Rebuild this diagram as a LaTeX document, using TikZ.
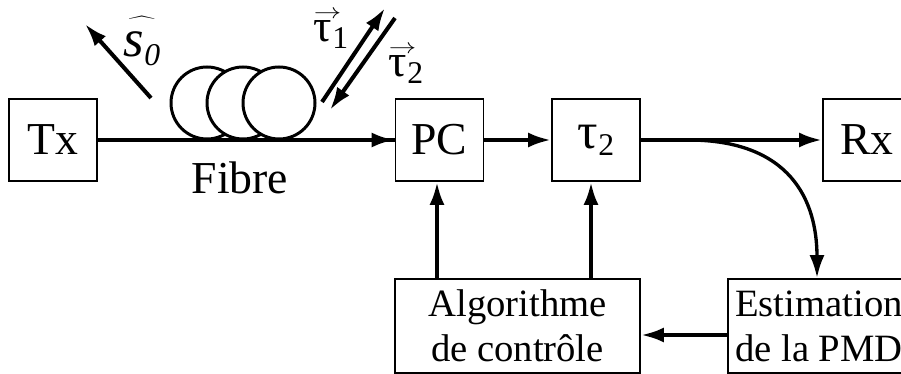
\documentclass[tikz,border=0pt]{standalone}
\usepackage{graphicx}
\usepackage{fontspec}
\setmainfont{Liberation Serif}
\usetikzlibrary{arrows.meta}

\newcommand{\bigtxt}{\fontsize{26}{30}\selectfont}
\newcommand{\smalltxt}{\fontsize{22}{25.5}\selectfont}
\newcommand{\lowidx}[1]{\raisebox{-0.35ex}{\fontsize{18}{18}\selectfont #1}}
\newcommand{\bigtau}{{\fontsize{29}{29}\selectfont τ}}
\newcommand{\vectau}{\makebox[0pt][l]{\raisebox{13pt}{\scalebox{1.3}[1]{\fontsize{13}{13}\selectfont$\rightarrow$}}}τ}

\tikzset{
  blk/.style={draw, line width=1.1pt, minimum width=1.76cm, minimum height=1.64cm, inner sep=0pt, font=\bigtxt},
  ctrl/.style={draw, line width=1.1pt, minimum height=1.88cm, inner sep=0pt, align=center, font=\smalltxt},
  sig/.style={line width=2.3pt, -{Latex[length=13pt,width=8.5pt]}},
}

\begin{document}
\begin{tikzpicture}
\useasboundingbox (0,0) rectangle (18.02,7.48);
\clip (0,0) rectangle (18.02,7.48);

% Main chain
\node[blk] (tx) at (1.06,4.68) {Tx};
\node[blk] (pc) at (8.79,4.68) {PC};
\node[blk] (tau) at (11.92,4.68) {\bigtau\lowidx{2}};
\node[blk] (rx) at (17.34,4.68) {Rx};

% Control loop boxes
\node[ctrl, minimum width=4.9cm] (alg) at (10.35,0.96) {Algorithme\\de contrôle};
\node[ctrl, minimum width=3.64cm] (est) at (16.38,0.96) {Estimation\\de la PMD};

% Fibre coils
\draw[line width=2.3pt] (tx.east) -- (pc.west);
\filldraw[fill=white,draw=black,line width=1.7pt] (4.14,5.42) circle (0.72);
\filldraw[fill=white,draw=black,line width=1.7pt] (4.86,5.42) circle (0.72);
\filldraw[fill=white,draw=black,line width=1.7pt] (5.58,5.42) circle (0.72);
\draw[sig] (tx.east) -- (pc.west);
\node[font=\bigtxt] (fib) at (4.80,3.92) {Fibre};

% Polarisation vectors
\coordinate (s0a) at (3.02,5.52);
\coordinate (s0b) at (1.70,7.00);
\draw[sig] (s0a) -- (s0b);
\node[font=\fontsize{30}{30}\selectfont] (s0) at (2.84,6.66) {$\widehat{\mbox{\vphantom{T}\textit{s}\lowidx{\textit{0}}}}$};

\coordinate (t1a) at (6.44,5.44);
\coordinate (t1b) at (7.70,7.32);
\coordinate (t2a) at (7.90,7.12);
\coordinate (t2b) at (6.60,5.28);
\draw[sig] (t1a) -- (t1b);
\draw[sig] (t2a) -- (t2b);
\node[font=\bigtxt, inner sep=0pt] (tau1) at (6.62,6.88) {\vectau\lowidx{1}};
\node[font=\bigtxt, inner sep=0pt] (tau2) at (8.12,6.18) {\vectau\lowidx{2}};

% Signal path
\draw[sig] (pc.east) -- (tau.west);
\draw[sig] (tau.east) -- (rx.west);
\coordinate (tap) at (13.76,4.68);
\draw[sig, line width=1.9pt] (tap) .. controls (15.8,4.68) and (16.34,3.48) .. (est.north -| 16.34,0);

% Feedback
\draw[sig] ([yshift=-0.18cm]est.west) -- ([yshift=-0.18cm]alg.east);
\draw[sig] (alg.north -| 8.74,0) -- (pc.south -| 8.74,0);
\draw[sig] (alg.north -| 11.82,0) -- (tau.south -| 11.82,0);

\end{tikzpicture}
\end{document}
